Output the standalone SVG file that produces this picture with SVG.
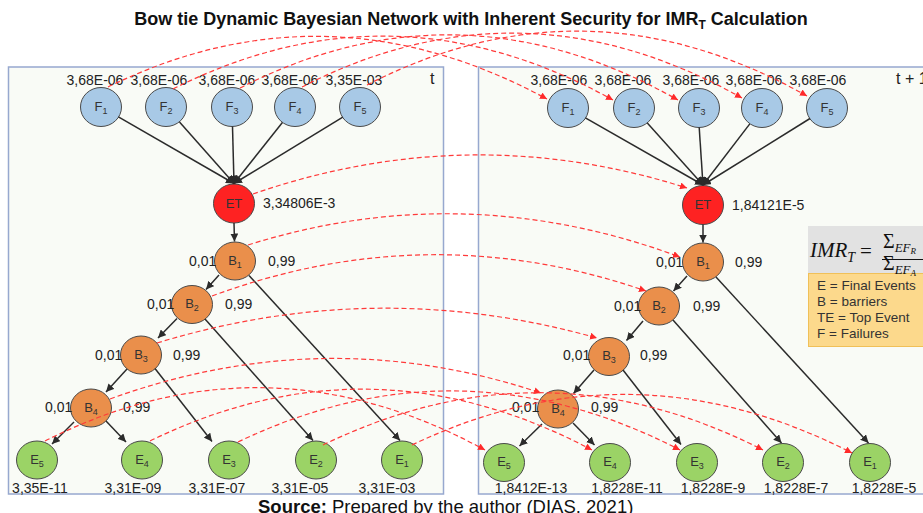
<svg xmlns="http://www.w3.org/2000/svg" width="923" height="513" viewBox="0 0 923 513">
<style>
.panel{fill:#f9fbf6;stroke:#97a8cf;stroke-width:1.5}
.nl{font-family:"Liberation Sans",Arial,sans-serif;font-size:13px;fill:#333;text-anchor:middle}
.num{font-family:"Liberation Sans",Arial,sans-serif;font-size:14px;fill:#222}
.numc{font-family:"Liberation Sans",Arial,sans-serif;font-size:14px;fill:#222;text-anchor:middle}
.f{fill:#a8c9e6;stroke:#4a4a4a;stroke-width:1}
.et{fill:#fe2222;stroke:#4a4a4a;stroke-width:1}
.b{fill:#ea8f4b;stroke:#4a4a4a;stroke-width:1}
.e{fill:#9bd366;stroke:#4a4a4a;stroke-width:1}
.blk{stroke:#2b2b2b;stroke-width:1.5;fill:none;marker-end:url(#ab)}
.red{stroke:#ff3a3a;stroke-width:1.2;stroke-dasharray:5,3;fill:none;marker-end:url(#ar)}
.leg{font-family:"Liberation Sans",Arial,sans-serif;font-size:13.5px;fill:#333}
.ser{font-family:"Liberation Serif","Times New Roman",serif;fill:#111}
</style>
<defs>
<marker id="ab" viewBox="0 0 10 10" refX="10" refY="5" markerWidth="8" markerHeight="8" markerUnits="userSpaceOnUse" orient="auto"><path d="M0,0 L10,5 L0,10 z" fill="#2b2b2b"/></marker>
<marker id="ar" viewBox="0 0 10 10" refX="10" refY="5" markerWidth="7" markerHeight="7" markerUnits="userSpaceOnUse" orient="auto"><path d="M0,0 L10,5 L0,10 z" fill="#ff2a2a"/></marker>
</defs>
<rect width="923" height="513" fill="#ffffff"/>
<text x="471" y="25" text-anchor="middle" font-family="'Liberation Sans',Arial,sans-serif" font-weight="bold" font-size="18" fill="#111">Bow tie Dynamic Bayesian Network with Inherent Security for IMR<tspan font-size="12" dy="4">T</tspan><tspan dy="-4"> Calculation</tspan></text>
<g id="panel-t"><rect class="panel" x="8.5" y="67" width="435" height="427"/><text x="430" y="84" font-family="'Liberation Sans',Arial,sans-serif" font-size="16" fill="#222">t</text></g>
<g id="panel-t1"><rect class="panel" x="478.5" y="67" width="470" height="427"/><text x="896" y="84" font-family="'Liberation Sans',Arial,sans-serif" font-size="16" fill="#222">t + 1</text></g>
<g id="legend">
<rect x="808" y="226" width="120" height="47" fill="#e2e2e2"/>
<rect x="808.5" y="273.5" width="120" height="73" fill="#fcd98c" stroke="#f0c058" stroke-width="1"/>
<text class="ser" x="810" y="257" font-style="italic" font-size="21">IMR<tspan font-size="14" dy="5">T</tspan></text>
<text class="ser" x="860" y="258" font-size="21">=</text>
<text class="ser" x="883" y="248" font-size="20">Σ<tspan font-style="italic" font-size="13" dy="4">EF</tspan><tspan font-style="italic" font-size="9" dy="2">R</tspan></text>
<line x1="882" y1="259.5" x2="925" y2="259.5" stroke="#111" stroke-width="1"/>
<text class="ser" x="883" y="270" font-size="20">Σ<tspan font-style="italic" font-size="13" dy="4">EF</tspan><tspan font-style="italic" font-size="9" dy="2">A</tspan></text>
<text class="leg" x="817" y="290">E = Final Events</text>
<text class="leg" x="817" y="306">B = barriers</text>
<text class="leg" x="817" y="322">TE = Top Event</text>
<text class="leg" x="817" y="338">F = Failures</text>
</g>
<!-- left nodes -->
<g id="F1_t"><ellipse class="f" cx="101" cy="107" rx="20.5" ry="19.5"/><text class="nl" x="101" y="111">F<tspan font-size="9" dy="3">1</tspan></text><text class="numc" x="95" y="85">3,68E-06</text></g>
<g id="F2_t"><ellipse class="f" cx="166" cy="107" rx="20.5" ry="19.5"/><text class="nl" x="166" y="111">F<tspan font-size="9" dy="3">2</tspan></text><text class="numc" x="159" y="85">3,68E-06</text></g>
<g id="F3_t"><ellipse class="f" cx="232" cy="107" rx="20.5" ry="19.5"/><text class="nl" x="232" y="111">F<tspan font-size="9" dy="3">3</tspan></text><text class="numc" x="227" y="85">3,68E-06</text></g>
<g id="F4_t"><ellipse class="f" cx="295" cy="107" rx="20.5" ry="19.5"/><text class="nl" x="295" y="111">F<tspan font-size="9" dy="3">4</tspan></text><text class="numc" x="290" y="85">3,68E-06</text></g>
<g id="F5_t"><ellipse class="f" cx="360" cy="107" rx="20.5" ry="19.5"/><text class="nl" x="360" y="111">F<tspan font-size="9" dy="3">5</tspan></text><text class="numc" x="354" y="85">3,35E-03</text></g>
<g id="ET_t"><ellipse class="et" cx="234" cy="203.5" rx="20.5" ry="19.5"/><text class="nl" x="234" y="208">ET</text><text class="num" x="263" y="208">3,34806E-3</text></g>
<g id="B1_t"><ellipse class="b" cx="235" cy="261" rx="20.5" ry="19"/><text class="nl" x="235" y="265">B<tspan font-size="9" dy="3">1</tspan></text><text class="num" x="189" y="266">0,01</text><text class="num" x="268" y="266">0,99</text></g>
<g id="B2_t"><ellipse class="b" cx="192" cy="304.5" rx="20.5" ry="19"/><text class="nl" x="192" y="308">B<tspan font-size="9" dy="3">2</tspan></text><text class="num" x="147" y="309">0,01</text><text class="num" x="225" y="309">0,99</text></g>
<g id="B3_t"><ellipse class="b" cx="141" cy="355" rx="20.5" ry="19"/><text class="nl" x="141" y="359">B<tspan font-size="9" dy="3">3</tspan></text><text class="num" x="95" y="360">0,01</text><text class="num" x="173" y="360">0,99</text></g>
<g id="B4_t"><ellipse class="b" cx="91" cy="408" rx="20.5" ry="19"/><text class="nl" x="91" y="412">B<tspan font-size="9" dy="3">4</tspan></text><text class="num" x="45" y="412">0,01</text><text class="num" x="123" y="412">0,99</text></g>
<g id="E5_t"><ellipse class="e" cx="37" cy="460" rx="20.5" ry="19"/><text class="nl" x="37" y="464">E<tspan font-size="9" dy="3">5</tspan></text><text class="numc" x="40" y="493">3,35E-11</text></g>
<g id="E4_t"><ellipse class="e" cx="142" cy="460" rx="20.5" ry="19"/><text class="nl" x="142" y="464">E<tspan font-size="9" dy="3">4</tspan></text><text class="numc" x="133" y="493">3,31E-09</text></g>
<g id="E3_t"><ellipse class="e" cx="229" cy="460" rx="20.5" ry="19"/><text class="nl" x="229" y="464">E<tspan font-size="9" dy="3">3</tspan></text><text class="numc" x="217" y="493">3,31E-07</text></g>
<g id="E2_t"><ellipse class="e" cx="316" cy="460" rx="20.5" ry="19"/><text class="nl" x="316" y="464">E<tspan font-size="9" dy="3">2</tspan></text><text class="numc" x="300" y="493">3,31E-05</text></g>
<g id="E1_t"><ellipse class="e" cx="402" cy="460" rx="20.5" ry="19"/><text class="nl" x="402" y="464">E<tspan font-size="9" dy="3">1</tspan></text><text class="numc" x="387" y="493">3,31E-03</text></g>
<!-- right nodes -->
<g id="F1_t1"><ellipse class="f" cx="568" cy="108" rx="20.5" ry="19.5"/><text class="nl" x="568" y="112">F<tspan font-size="9" dy="3">1</tspan></text><text class="numc" x="559" y="85">3,68E-06</text></g>
<g id="F2_t1"><ellipse class="f" cx="634" cy="108" rx="20.5" ry="19.5"/><text class="nl" x="634" y="112">F<tspan font-size="9" dy="3">2</tspan></text><text class="numc" x="623" y="85">3,68E-06</text></g>
<g id="F3_t1"><ellipse class="f" cx="699" cy="108" rx="20.5" ry="19.5"/><text class="nl" x="699" y="112">F<tspan font-size="9" dy="3">3</tspan></text><text class="numc" x="691" y="85">3,68E-06</text></g>
<g id="F4_t1"><ellipse class="f" cx="762" cy="108" rx="20.5" ry="19.5"/><text class="nl" x="762" y="112">F<tspan font-size="9" dy="3">4</tspan></text><text class="numc" x="754" y="85">3,68E-06</text></g>
<g id="F5_t1"><ellipse class="f" cx="827" cy="108" rx="20.5" ry="19.5"/><text class="nl" x="827" y="112">F<tspan font-size="9" dy="3">5</tspan></text><text class="numc" x="818" y="85">3,68E-06</text></g>
<g id="ET_t1"><ellipse class="et" cx="703" cy="205" rx="20.5" ry="19.5"/><text class="nl" x="703" y="209">ET</text><text class="num" x="732" y="210">1,84121E-5</text></g>
<g id="B1_t1"><ellipse class="b" cx="703" cy="262" rx="20.5" ry="19"/><text class="nl" x="703" y="266">B<tspan font-size="9" dy="3">1</tspan></text><text class="num" x="656" y="267">0,01</text><text class="num" x="735" y="267">0,99</text></g>
<g id="B2_t1"><ellipse class="b" cx="659" cy="306" rx="20.5" ry="19"/><text class="nl" x="659" y="310">B<tspan font-size="9" dy="3">2</tspan></text><text class="num" x="614" y="311">0,01</text><text class="num" x="693" y="311">0,99</text></g>
<g id="B3_t1"><ellipse class="b" cx="609" cy="356.5" rx="20.5" ry="19"/><text class="nl" x="609" y="360">B<tspan font-size="9" dy="3">3</tspan></text><text class="num" x="563" y="360">0,01</text><text class="num" x="640" y="360">0,99</text></g>
<g id="B4_t1"><ellipse class="b" cx="558" cy="409" rx="20.5" ry="19"/><text class="nl" x="558" y="413">B<tspan font-size="9" dy="3">4</tspan></text><text class="num" x="512" y="412">0,01</text><text class="num" x="591" y="412">0,99</text></g>
<g id="E5_t1"><ellipse class="e" cx="504" cy="462.5" rx="20.5" ry="19"/><text class="nl" x="504" y="466">E<tspan font-size="9" dy="3">5</tspan></text><text class="numc" x="531" y="493">1,8412E-13</text></g>
<g id="E4_t1"><ellipse class="e" cx="610" cy="462.5" rx="20.5" ry="19"/><text class="nl" x="610" y="466">E<tspan font-size="9" dy="3">4</tspan></text><text class="numc" x="627" y="493">1,8228E-11</text></g>
<g id="E3_t1"><ellipse class="e" cx="697" cy="462.5" rx="20.5" ry="19"/><text class="nl" x="697" y="466">E<tspan font-size="9" dy="3">3</tspan></text><text class="numc" x="713" y="493">1,8228E-9</text></g>
<g id="E2_t1"><ellipse class="e" cx="783" cy="462.5" rx="20.5" ry="19"/><text class="nl" x="783" y="466">E<tspan font-size="9" dy="3">2</tspan></text><text class="numc" x="796" y="493">1,8228E-7</text></g>
<g id="E1_t1"><ellipse class="e" cx="870" cy="462.5" rx="20.5" ry="19"/><text class="nl" x="870" y="466">E<tspan font-size="9" dy="3">1</tspan></text><text class="numc" x="884" y="493">1,8228E-5</text></g>
<g id="connectors">
<!-- left black -->
<line class="blk" x1="118.4" y1="116.8" x2="234" y2="183.5"/>
<line class="blk" x1="179.5" y1="122" x2="234" y2="183.5"/>
<line class="blk" x1="232.5" y1="126.5" x2="234" y2="183.5"/>
<line class="blk" x1="282.4" y1="122.5" x2="234" y2="183.5"/>
<line class="blk" x1="342.8" y1="117.2" x2="234" y2="183.5"/>
<line class="blk" x1="234" y1="223" x2="234.5" y2="241.5"/>
<line class="blk" x1="219" y1="275" x2="206" y2="289.5"/>
<line class="blk" x1="249" y1="275.5" x2="400" y2="440.5"/>
<line class="blk" x1="177" y1="318.5" x2="158" y2="338"/>
<line class="blk" x1="205" y1="319" x2="313" y2="440.5"/>
<line class="blk" x1="127" y1="369" x2="106" y2="392"/>
<line class="blk" x1="155" y1="368.5" x2="212" y2="441.5"/>
<line class="blk" x1="74" y1="422" x2="52" y2="444"/>
<line class="blk" x1="106" y1="421" x2="126" y2="442"/>
<!-- right black -->
<line class="blk" x1="585.4" y1="117.9" x2="703" y2="185"/>
<line class="blk" x1="647.3" y1="122.9" x2="703" y2="185"/>
<line class="blk" x1="699.2" y1="127.5" x2="703" y2="185"/>
<line class="blk" x1="749.8" y1="123.9" x2="703" y2="185"/>
<line class="blk" x1="810" y1="118.5" x2="703" y2="185"/>
<line class="blk" x1="703" y1="224.5" x2="703" y2="242.5"/>
<line class="blk" x1="687" y1="276" x2="673.5" y2="291"/>
<line class="blk" x1="716" y1="277" x2="868.5" y2="443"/>
<line class="blk" x1="643" y1="321" x2="626.5" y2="340.5"/>
<line class="blk" x1="673" y1="320" x2="781.5" y2="443"/>
<line class="blk" x1="594" y1="370" x2="573.5" y2="393.5"/>
<line class="blk" x1="623" y1="370" x2="681" y2="444.5"/>
<line class="blk" x1="542" y1="424" x2="519.5" y2="446"/>
<line class="blk" x1="573" y1="423" x2="594.5" y2="445"/>
<!-- temporal dashed -->
<path class="red" d="M108,87 Q327,-20 547,99"/>
<path class="red" d="M173,89 Q393,-22 613,100"/>
<path class="red" d="M240,88 Q459,-24 678,100"/>
<path class="red" d="M302,87 Q522,-26 742,98"/>
<path class="red" d="M367,85 Q587,-28 807,96"/>
<path class="red" d="M253,194 Q470,119 687,188"/>
<path class="red" d="M248,245 Q464,177 680,257"/>
<path class="red" d="M212,296 Q429,216 646,291"/>
<path class="red" d="M157,343 Q377,276 597,338"/>
<path class="red" d="M110,399 Q325,321 541,393"/>
<path class="red" d="M45,441 Q265,330 485,450"/>
<path class="red" d="M150,441 Q371,333 592,450"/>
<path class="red" d="M238,442 Q459,336 680,450"/>
<path class="red" d="M323,445 Q543,338 763,450"/>
<path class="red" d="M412,445 Q632,340 852,453"/>
</g>
<text x="258" y="513" font-family="'Liberation Sans',Arial,sans-serif" font-size="18.5" fill="#111"><tspan font-weight="bold">Source:</tspan> Prepared by the author (DIAS, 2021)</text>
</svg>
